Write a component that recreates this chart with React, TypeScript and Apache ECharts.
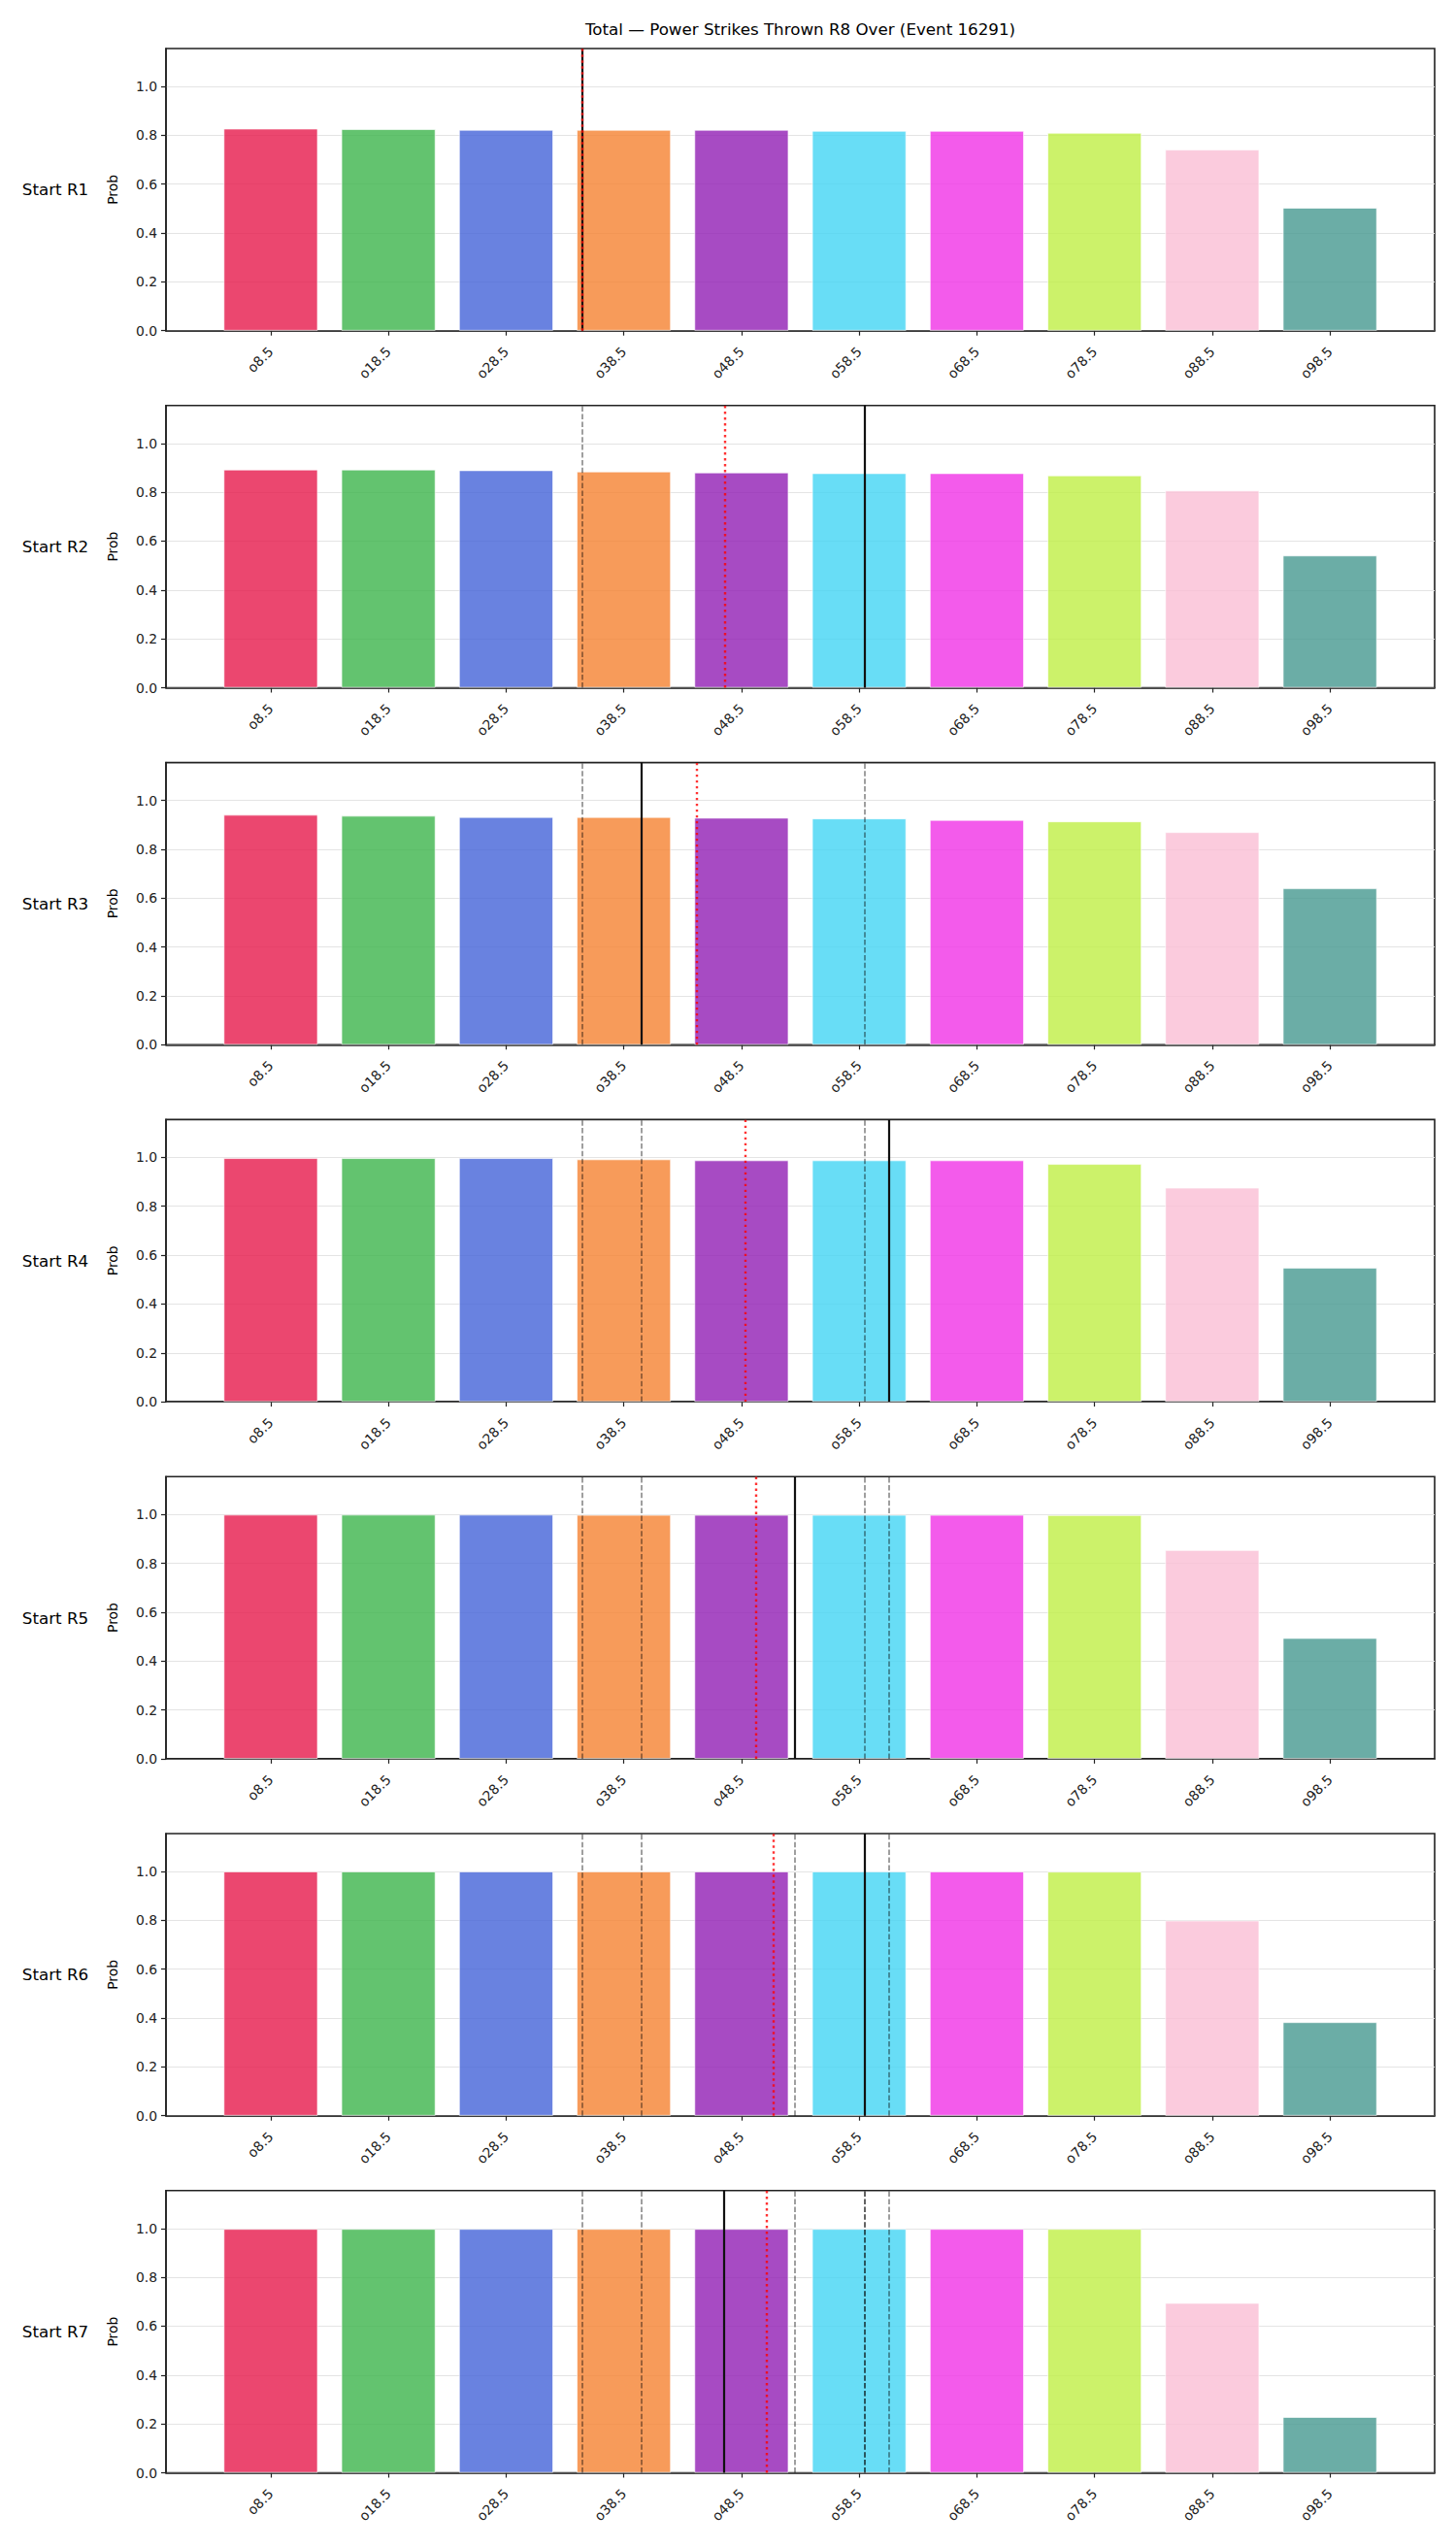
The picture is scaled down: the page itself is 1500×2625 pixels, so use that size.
import React, { useEffect, useRef } from "react";
import * as echarts from "echarts";

// ---------------- data ----------------
const TITLE = "Total — Power Strikes Thrown R8 Over (Event 16291)";
const roundLabels = ["Start R1", "Start R2", "Start R3", "Start R4", "Start R5", "Start R6", "Start R7"];
const thresholds = [8.5, 18.5, 28.5, 38.5, 48.5, 58.5, 68.5, 78.5, 88.5, 98.5];
const tickLabels = ["o8.5", "o18.5", "o28.5", "o38.5", "o48.5", "o58.5", "o68.5", "o78.5", "o88.5", "o98.5"];
const barColors = ["#e6194B", "#3cb44b", "#4363d8", "#f58231", "#911eb4", "#42d4f4", "#f032e6", "#bfef45", "#fabed4", "#469990"];

const probR1 = [0.827, 0.825, 0.822, 0.822, 0.822, 0.818, 0.818, 0.81, 0.741, 0.503];
const probR2 = [0.893, 0.893, 0.89, 0.885, 0.881, 0.878, 0.878, 0.869, 0.807, 0.541];
const probR3 = [0.941, 0.937, 0.932, 0.932, 0.929, 0.926, 0.92, 0.914, 0.87, 0.64];
const probR4 = [0.997, 0.997, 0.997, 0.992, 0.988, 0.988, 0.988, 0.973, 0.876, 0.548];
const probR5 = [0.999, 0.999, 0.999, 0.998, 0.998, 0.998, 0.998, 0.997, 0.854, 0.494];
const probR6 = [1.0, 1.0, 1.0, 1.0, 1.0, 1.0, 1.0, 0.999, 0.799, 0.383];
const probR7 = [0.998, 0.998, 0.998, 0.998, 0.998, 0.998, 0.998, 0.998, 0.695, 0.228];
const probs = [probR1, probR2, probR3, probR4, probR5, probR6, probR7];

// current pace (solid black); earlier rounds' pace drawn dashed grey
const currentPace = [35, 59, 40, 61, 53, 59, 47];
// projection (red dotted)
const projected = [35, 47.1, 44.7, 48.8, 49.7, 51.2, 50.6];

const yTicks = [0, 0.2, 0.4, 0.6, 0.8, 1.0];

// ---------------- layout ----------------
const W = 1500;
const H = 2625;
const X_MIN = -0.4;
const X_MAX = 107.4;
const Y_MAX = 1.155;
const GRID_LEFT = 171;
const GRID_W = 1307;
const GRID_TOP0 = 50;
const GRID_STEP = 367.8;
const GRID_H = 290.7;
const FONT = "DejaVu Sans";
const INK = "#222";

export default function App() {
  const ref = useRef<HTMLDivElement>(null);

  useEffect(() => {
    if (!ref.current) return;
    const chart = echarts.init(ref.current, undefined, { renderer: "svg", width: W, height: H });
    const pxPerUnit = GRID_W / (X_MAX - X_MIN);
    const barPx = 8 * pxPerUnit;

    const grids: any[] = [];
    const xAxes: any[] = [];
    const yAxes: any[] = [];
    const series: any[] = [];
    const graphics: any[] = [];

    graphics.push({
      type: "text",
      x: GRID_LEFT + GRID_W / 2,
      y: 30,
      style: { text: TITLE, fontSize: 16.7, fontFamily: FONT, fill: "#000", align: "center", verticalAlign: "middle" },
    });

    probs.forEach((vals, i) => {
      const top = GRID_TOP0 + i * GRID_STEP;
      grids.push({
        left: GRID_LEFT,
        top,
        width: GRID_W,
        height: GRID_H,
        show: true,
        borderColor: INK,
        borderWidth: 1.6,
        backgroundColor: "transparent",
      });
      xAxes.push({
        type: "value",
        gridIndex: i,
        min: X_MIN,
        max: X_MAX,
        splitLine: { show: false },
        axisLine: { show: true, onZero: false, lineStyle: { color: INK, width: 1.6 } },
        axisTick: { show: true, customValues: thresholds, length: 5, lineStyle: { color: INK, width: 1.2 } },
        axisLabel: {
          customValues: thresholds,
          formatter: (v: number) => {
            const k = thresholds.findIndex((t) => Math.abs(t - v) < 1e-6);
            return k >= 0 ? tickLabels[k] : "";
          },
          rotate: 45,
          margin: 19,
          fontSize: 13.9,
          fontFamily: FONT,
          color: INK,
        },
      });
      yAxes.push({
        type: "value",
        gridIndex: i,
        min: 0,
        max: Y_MAX,
        interval: 0.2,
        axisLine: { show: true, onZero: false, lineStyle: { color: INK, width: 1.6 } },
        axisTick: { show: true, customValues: yTicks, length: 5, lineStyle: { color: INK, width: 1.2 } },
        axisLabel: {
          customValues: yTicks,
          formatter: (v: number) => v.toFixed(1),
          margin: 9,
          fontSize: 13.9,
          fontFamily: FONT,
          color: INK,
        },
        splitLine: { show: true, lineStyle: { color: "#e4e4e4", width: 1 } },
      });
      series.push({
        type: "bar",
        xAxisIndex: i,
        yAxisIndex: i,
        barWidth: barPx,
        silent: true,
        itemStyle: { borderColor: "#ffffff", borderWidth: 0.8 },
        data: vals.map((v, j) => ({
          value: [thresholds[j], v],
          itemStyle: { color: barColors[j], opacity: 0.8 },
        })),
      });
      const history = currentPace.slice(0, i);
      series.push({
        type: "line",
        xAxisIndex: i,
        yAxisIndex: i,
        data: [],
        silent: true,
        z: 5,
        markLine: {
          symbol: ["none", "none"],
          silent: true,
          animation: false,
          label: { show: false },
          data: [
            ...history.map((x) => ({
              xAxis: x,
              lineStyle: { color: "rgba(0,0,0,0.5)", width: 1.5, type: [5.5, 2.4] },
            })),
            { xAxis: currentPace[i], lineStyle: { color: "#111", width: 2.2, type: "solid" } },
            { xAxis: projected[i], lineStyle: { color: "rgba(255,0,0,0.8)", width: 2.4, type: [2.4, 3.6] } },
          ],
        },
      });
      const cy = top + GRID_H / 2;
      graphics.push({
        type: "text",
        x: 57,
        y: cy,
        style: { text: roundLabels[i], fontSize: 16.7, fontFamily: FONT, fill: "#000", align: "center", verticalAlign: "middle" },
      });
      graphics.push({
        type: "text",
        x: 115.5,
        y: cy,
        rotation: Math.PI / 2,
        style: { text: "Prob", fontSize: 13.9, fontFamily: FONT, fill: "#000", align: "center", verticalAlign: "middle" },
      });
    });

    chart.setOption({
      animation: false,
      backgroundColor: "#ffffff",
      textStyle: { fontFamily: FONT },
      grid: grids,
      xAxis: xAxes,
      yAxis: yAxes,
      series,
      graphic: graphics,
    });

    return () => chart.dispose();
  }, []);

  return (
    <div
      ref={ref}
      style={{ position: "absolute", left: 0, top: 0, width: W, height: H, background: "#fff" }}
    />
  );
}
